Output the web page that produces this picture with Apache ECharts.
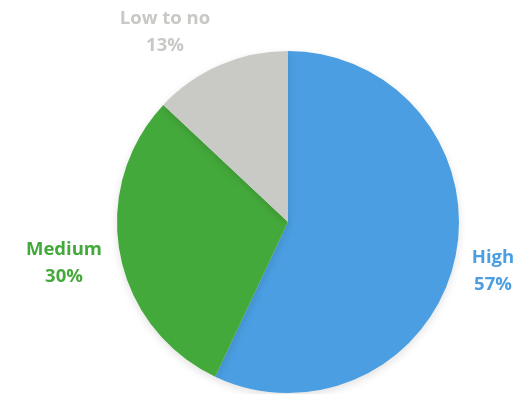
<!DOCTYPE html>
<html>
<head>
<meta charset="utf-8">
<script src="https://cdn.jsdelivr.net/npm/echarts@6/dist/echarts.min.js"></script>
<style>
  html, body { margin: 0; padding: 0; background: #ffffff; }
  #chart { width: 525px; height: 394px; }
</style>
</head>
<body>
<div id="chart"></div>
<script>
// Share of respondents by level
const categories = ['High', 'Medium', 'Low to no'];
const shares = [57, 30, 13];
const colors = ['#4A9EE1', '#44A93B', '#C9CAC6'];
const labelColors = ['#4A9EE1', '#44A93B', '#C8C9C5'];

// Label anchor points (centre of each two-line label)
const labelSpots = [[493, 271], [64, 263], [165, 32]];

const chart = echarts.init(document.getElementById('chart'), null, { renderer: 'canvas' });

chart.setOption({
  animation: false,
  backgroundColor: '#ffffff',
  series: [{
    type: 'pie',
    center: [288, 222],
    radius: 171,
    startAngle: 90,
    clockwise: true,
    itemStyle: {
      borderWidth: 0,
      shadowBlur: 8,
      shadowOffsetY: 3,
      shadowColor: 'rgba(0,0,0,0.12)'
    },
    label: {
      show: true,
      position: 'outside',
      overflow: 'none',
      fontFamily: 'Open Sans',
      fontWeight: 'bold',
      fontSize: 18.5,
      lineHeight: 27,
      align: 'center',
      formatter: p => p.name + '\n' + p.value + '%'
    },
    labelLine: { show: false },
    labelLayout: p => ({
      x: labelSpots[p.dataIndex][0],
      y: labelSpots[p.dataIndex][1],
      align: 'center',
      verticalAlign: 'middle'
    }),
    data: categories.map((name, i) => ({
      name,
      value: shares[i],
      itemStyle: { color: colors[i] },
      label: { color: labelColors[i] }
    }))
  }]
});
</script>
</body>
</html>
